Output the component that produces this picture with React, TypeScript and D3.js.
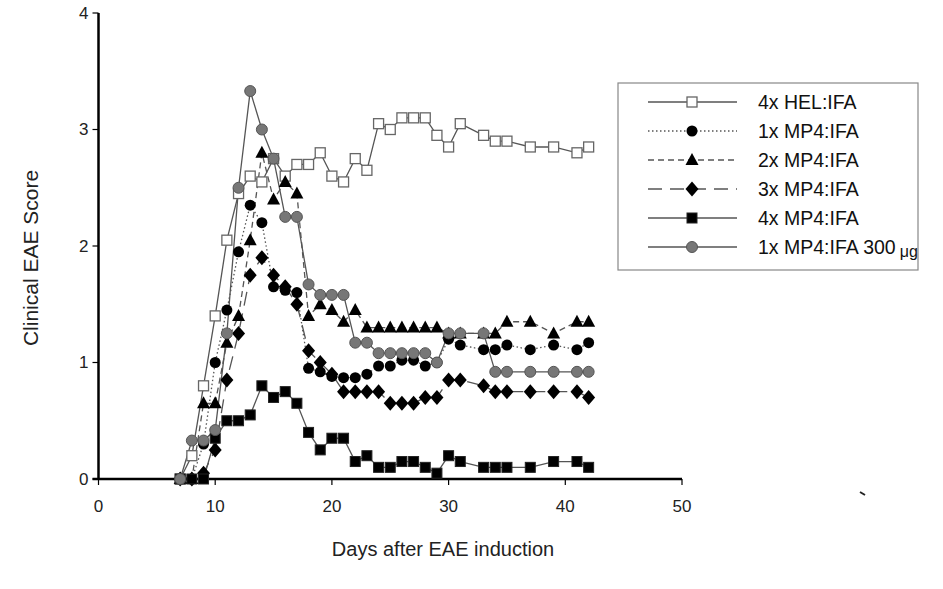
import React from 'react';
import * as d3 from 'd3';

const days = [7, 8, 9, 10, 11, 12, 13, 14, 15, 16, 17, 18, 19, 20, 21, 22, 23, 24, 25, 26, 27, 28, 29, 30, 31, 33, 34, 35, 37, 39, 41, 42];

const hel4x = [0, 0.2, 0.8, 1.4, 2.05, 2.45, 2.6, 2.55, 2.75, 2.6, 2.7, 2.7, 2.8, 2.6, 2.55, 2.75, 2.65, 3.05, 3.0, 3.1, 3.1, 3.1, 2.95, 2.85, 3.05, 2.95, 2.9, 2.9, 2.85, 2.85, 2.8, 2.85];
const mp4x1 = [0, 0, 0.3, 1.0, 1.45, 1.95, 2.35, 2.2, 1.65, 1.62, 1.6, 0.95, 0.92, 0.88, 0.87, 0.87, 0.9, 0.97, 0.97, 1.02, 1.02, 0.97, 1.0, 1.2, 1.15, 1.11, 1.11, 1.15, 1.11, 1.15, 1.11, 1.17];
const mp4x2 = [0, 0, 0.65, 0.65, 1.17, 1.4, 2.05, 2.8, 2.4, 2.55, 2.45, 1.4, 1.5, 1.45, 1.35, 1.45, 1.3, 1.3, 1.3, 1.3, 1.3, 1.3, 1.3, 1.25, 1.25, 1.25, 1.25, 1.35, 1.35, 1.25, 1.35, 1.35];
const mp4x3 = [0, 0, 0.05, 0.25, 0.85, 1.25, 1.75, 1.9, 1.75, 1.65, 1.5, 1.1, 1.0, 0.9, 0.75, 0.75, 0.75, 0.75, 0.65, 0.65, 0.65, 0.7, 0.7, 0.85, 0.85, 0.8, 0.75, 0.75, 0.75, 0.75, 0.75, 0.7];
const mp4x4 = [0, 0, 0, 0.35, 0.5, 0.5, 0.55, 0.8, 0.7, 0.75, 0.65, 0.4, 0.25, 0.35, 0.35, 0.15, 0.2, 0.1, 0.1, 0.15, 0.15, 0.1, 0.05, 0.2, 0.15, 0.1, 0.1, 0.1, 0.1, 0.15, 0.15, 0.1];
const mp4x1hi = [0, 0.33, 0.33, 0.42, 1.25, 2.5, 3.33, 3.0, 2.75, 2.25, 2.25, 1.67, 1.58, 1.58, 1.58, 1.17, 1.17, 1.08, 1.08, 1.08, 1.08, 1.08, 1.0, 1.25, 1.25, 1.25, 0.92, 0.92, 0.92, 0.92, 0.92, 0.92];

const xTicks = [0, 10, 20, 30, 40, 50];
const yTicks = [0, 1, 2, 3, 4];

type Marker = 'openSquare' | 'circle' | 'triangle' | 'diamond' | 'square' | 'greyCircle';

const series: { name: string; values: number[]; marker: Marker; dash: string }[] = [
  { name: '4x HEL:IFA', values: hel4x, marker: 'openSquare', dash: '' },
  { name: '1x MP4:IFA', values: mp4x1, marker: 'circle', dash: '1.5,2.5' },
  { name: '2x MP4:IFA', values: mp4x2, marker: 'triangle', dash: '6,4' },
  { name: '3x MP4:IFA', values: mp4x3, marker: 'diamond', dash: '14,8' },
  { name: '4x MP4:IFA', values: mp4x4, marker: 'square', dash: '' },
  { name: '1x MP4:IFA 300', values: mp4x1hi, marker: 'greyCircle', dash: '' },
];

const FONT = '"Liberation Sans", Arial, Helvetica, sans-serif';

function MarkerShape({ type, cx, cy }: { type: Marker; cx: number; cy: number }) {
  switch (type) {
    case 'openSquare':
      return <rect x={cx - 5} y={cy - 5} width={10} height={10} fill="#fff" stroke="#666" strokeWidth={1.3} />;
    case 'square':
      return <rect x={cx - 5} y={cy - 5} width={10} height={10} fill="#000" stroke="#222" strokeWidth={1} />;
    case 'circle':
      return <circle cx={cx} cy={cy} r={5.5} fill="#000" />;
    case 'greyCircle':
      return <circle cx={cx} cy={cy} r={5.5} fill="#777" stroke="#555" strokeWidth={1} />;
    case 'triangle':
      return <path d={`M${cx},${cy - 7} L${cx + 6.5},${cy + 5} L${cx - 6.5},${cy + 5} Z`} fill="#000" />;
    case 'diamond':
      return <path d={`M${cx},${cy - 7.5} L${cx + 6.5},${cy} L${cx},${cy + 7.5} L${cx - 6.5},${cy} Z`} fill="#000" />;
  }
  return null;
}

export default function App() {
  const W = 943;
  const H = 589;
  const x = d3.scaleLinear().domain([0, 50]).range([98.5, 682]);
  const y = d3.scaleLinear().domain([0, 4]).range([479, 13]);
  const line = d3
    .line<[number, number]>()
    .x((d) => x(d[0]))
    .y((d) => y(d[1]));

  const legendX = 618;
  const legendY = 83;
  const legendRowY = (i: number) => 102 + i * 29;

  return (
    <svg width={W} height={H} style={{ position: 'absolute', left: 0, top: 0, background: '#fff' }} fontFamily={FONT}>
      <rect x={0} y={0} width={W} height={H} fill="#fff" />
      {series.map((s) => (
        <path
          key={s.name + 'line'}
          d={line(days.map((d, i) => [d, s.values[i]] as [number, number])) || ''}
          fill="none"
          stroke="#555"
          strokeWidth={1.3}
          strokeDasharray={s.dash || undefined}
        />
      ))}
      <line x1={x(0)} x2={x(0)} y1={y(4)} y2={y(0)} stroke="#000" strokeWidth={2.5} />
      <line x1={x(0) - 6} x2={x(50)} y1={y(0)} y2={y(0)} stroke="#000" strokeWidth={2.5} />
      {yTicks.map((t) => (
        <g key={'yt' + t}>
          <line x1={x(0) - 6} x2={x(0)} y1={y(t)} y2={y(t)} stroke="#000" strokeWidth={1.2} />
          <text x={x(0) - 10} y={y(t)} dy="0.35em" textAnchor="end" fontSize={17} fill="#222">
            {t}
          </text>
        </g>
      ))}
      {xTicks.map((t) => (
        <g key={'xt' + t}>
          <line x1={x(t)} x2={x(t)} y1={y(0)} y2={y(0) + 6} stroke="#000" strokeWidth={1.2} />
          <text x={x(t)} y={y(0) + 33} textAnchor="middle" fontSize={17} fill="#222">
            {t}
          </text>
        </g>
      ))}
      {series.map((s) => (
        <g key={s.name + 'pts'}>
          {days.map((d, i) => (
            <MarkerShape key={i} type={s.marker} cx={x(d)} cy={y(s.values[i])} />
          ))}
        </g>
      ))}
      <text x={443} y={556} textAnchor="middle" fontSize={20} fill="#222">
        Days after EAE induction
      </text>
      <text transform={`translate(38,258) rotate(-90)`} textAnchor="middle" fontSize={21} fill="#222">
        Clinical EAE Score
      </text>
      <rect x={legendX} y={legendY} width={300} height={187} fill="#fff" stroke="#888" strokeWidth={1.2} />
      {series.map((s, i) => (
        <g key={s.name + 'leg'}>
          <line x1={648} x2={737} y1={legendRowY(i)} y2={legendRowY(i)} stroke="#555" strokeWidth={1.3} strokeDasharray={s.dash || undefined} />
          <MarkerShape type={s.marker} cx={692} cy={legendRowY(i)} />
          <text x={758} y={legendRowY(i)} dy="0.36em" fontSize={19.5} fill="#111">
            {s.name}
            {i === 5 ? (
              <>
                <tspan dx={4} fontSize={16} dy={3}>μ</tspan>
                <tspan fontSize={16}>g</tspan>
              </>
            ) : null}
          </text>
        </g>
      ))}
      <line x1={860} x2={865} y1={492} y2={495} stroke="#222" strokeWidth={2} />
    </svg>
  );
}
